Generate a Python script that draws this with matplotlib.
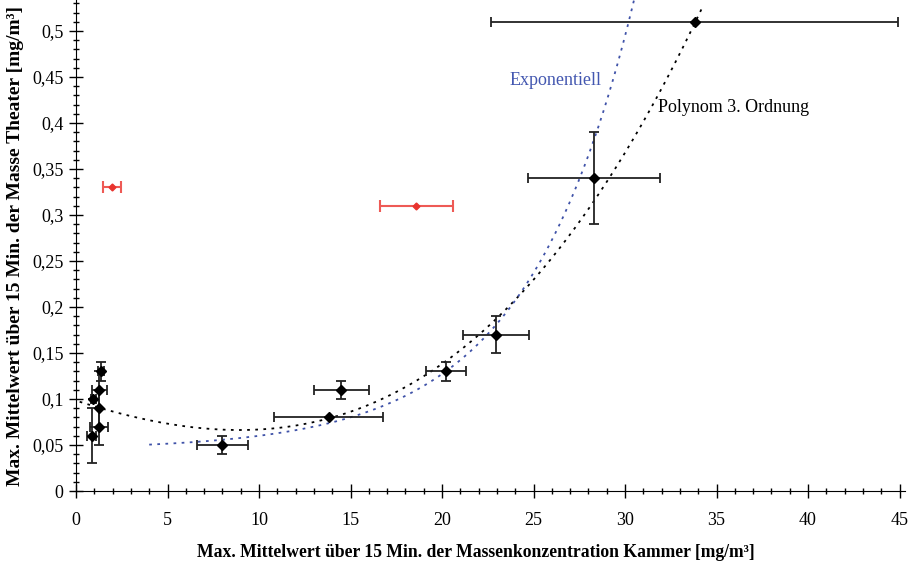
import numpy as np
import matplotlib
matplotlib.use("Agg")
import matplotlib.pyplot as plt
from matplotlib.ticker import MultipleLocator, FuncFormatter

plt.rcParams["font.family"] = ["Liberation Serif", "DejaVu Serif"]

# measured points (black)
x_vals = [0.86, 0.95, 1.27, 1.27, 1.28, 1.37, 8.0, 13.8, 14.5, 20.2, 22.95, 28.3, 33.8]
y_vals = [0.06, 0.10, 0.07, 0.09, 0.11, 0.13, 0.05, 0.08, 0.11, 0.13, 0.17, 0.34, 0.51]
x_err = [0.25, 0.14, 0.5, 0.0, 0.4, 0.18, 1.4, 3.0, 1.5, 1.1, 1.8, 3.6, 11.1]
y_err = [0.03, 0.0, 0.02, 0.02, 0.02, 0.01, 0.01, 0.0, 0.01, 0.01, 0.02, 0.05, 0.0]

# outliers (red)
x_out = [1.97, 18.6]
y_out = [0.33, 0.31]
x_out_err = [0.5, 2.0]

# trend lines (coefficients)
poly_coef = [0.09827, -0.006422, 0.0002353, 9.27e-6]   # a + b x + c x^2 + d x^3
poly_range = (0.2, 34.2)
exp_offset, exp_a, exp_b = 0.045, 0.00274, 0.17          # c + a * exp(b x)
exp_range = (4.0, 30.5)

fig = plt.figure(figsize=(9.2, 5.63), dpi=100)
ax = fig.add_axes([76 / 920, 1 - 491 / 563, (905 - 76) / 920, 491 / 563])

xp = np.linspace(*poly_range, 300)
yp = sum(c * xp ** i for i, c in enumerate(poly_coef))
ax.plot(xp, yp, color="black", lw=1.3, ls=(0, (1.5, 3)), zorder=2)

xe = np.linspace(*exp_range, 300)
ye = exp_offset + exp_a * np.exp(exp_b * xe)
ax.plot(xe, ye, color="#3f52a8", lw=1.3, ls=(0, (1.5, 3)), zorder=2)

ax.errorbar(x_vals, y_vals, xerr=x_err, yerr=y_err, fmt="D", color="black",
            ms=5, ecolor="#222222", elinewidth=1.3, capsize=3.5, capthick=1.3, zorder=4)
ax.errorbar(x_out, y_out, xerr=x_out_err, fmt="D", color="#e8332e",
            ms=3.5, ecolor="#ee5a55", elinewidth=1.5, capsize=4, capthick=1.5, zorder=4)

ax.text(23.7, 0.446, "Exponentiell", color="#4357b0", fontsize=13, va="center", ha="left")
ax.text(31.8, 0.417, "Polynom 3. Ordnung", color="black", fontsize=13, va="center", ha="left")

ax.set_xlim(0, 45.3)
ax.set_ylim(0, 491 / 920)
ax.xaxis.set_major_locator(MultipleLocator(5))
ax.xaxis.set_minor_locator(MultipleLocator(1))
ax.yaxis.set_major_locator(MultipleLocator(0.05))
ax.yaxis.set_minor_locator(MultipleLocator(0.01))
fmt = FuncFormatter(lambda v, p: f"{round(v, 2):g}".replace(".", ","))
ax.xaxis.set_major_formatter(fmt)
ax.yaxis.set_major_formatter(fmt)
ax.tick_params(which="major", direction="inout", length=10, width=1, labelsize=13, pad=4)
ax.tick_params(which="minor", direction="inout", length=5, width=1)
ax.tick_params(axis="x", which="major", pad=10)

for s in ["top", "right"]:
    ax.spines[s].set_visible(False)

ax.set_xlabel("Max. Mittelwert über 15 Min. der Massenkonzentration Kammer [mg/m³]",
              fontsize=12.7, fontweight="bold")
ax.xaxis.set_label_coords(0.4825, -0.108)
ax.set_ylabel("Max. Mittelwert über 15 Min. der Masse Theater [mg/m³]",
              fontsize=14, fontweight="bold", labelpad=6)

fig.savefig("out.png", dpi=100)
